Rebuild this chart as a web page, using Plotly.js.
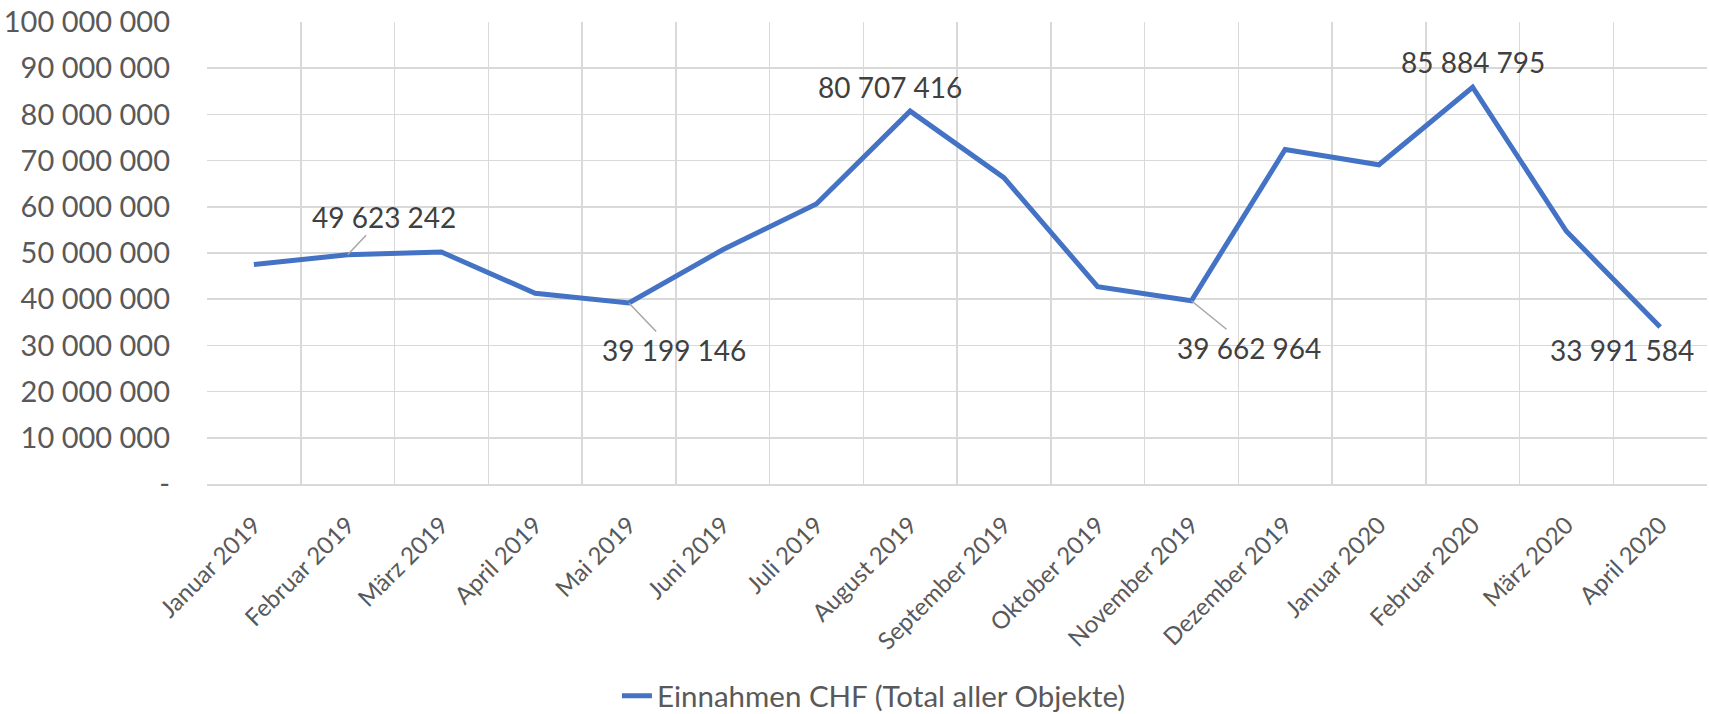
<!DOCTYPE html>
<html>
<head>
<meta charset="utf-8">
<script src="https://cdn.plot.ly/plotly-3.0.1.min.js"></script>
<style>html,body{margin:0;padding:0;background:#fff;}#chart{width:1709px;height:714px;}</style>
</head>
<body>
<div id="chart"></div>
<script>
const months = ["Januar 2019","Februar 2019","März 2019","April 2019","Mai 2019","Juni 2019","Juli 2019","August 2019","September 2019","Oktober 2019","November 2019","Dezember 2019","Januar 2020","Februar 2020","März 2020","April 2020"];
const einnahmen = [47500000, 49623242, 50200000, 41300000, 39199146, 50700000, 60600000, 80707416, 66300000, 42700000, 39662964, 72400000, 69100000, 85884795, 54700000, 33991584];
const seriesName = "Einnahmen CHF (Total aller Objekte)";
const yTickVals = [0,10000000,20000000,30000000,40000000,50000000,60000000,70000000,80000000,90000000,100000000];
const yTickText = ["-","10 000 000","20 000 000","30 000 000","40 000 000","50 000 000","60 000 000","70 000 000","80 000 000","90 000 000","100 000 000"];
const labelledIdx = [1, 4, 7, 10, 13, 15];
const labelOffsets = {1:[36,-38,true],4:[45,47,true],7:[-20,-24,false],10:[58,47,true],13:[0,-25,false],15:[-38,23,false]};

function fmt(v){ return String(v).replace(/\B(?=(\d{3})+(?!\d))/g, " "); }

const annotations = labelledIdx.map(i => {
  const o = labelOffsets[i];
  return {
    x: months[i], y: einnahmen[i], xref: 'x', yref: 'y',
    text: fmt(einnahmen[i]),
    showarrow: true, arrowhead: 0, arrowwidth: 1.5,
    arrowcolor: o[2] ? '#a6a6a6' : 'rgba(0,0,0,0)',
    ax: o[0], ay: o[1], standoff: 0, startstandoff: 0,
    font: {family: 'Lato, sans-serif', size: 28, color: '#404040'}
  };
});

const trace = {
  x: months, y: einnahmen, type: 'scatter', mode: 'lines', name: seriesName,
  line: {color: '#4472C4', width: 5, shape: 'linear'},
  hoverinfo: 'skip'
};

const layout = {
  width: 1709, height: 714,
  margin: {l: 207, r: 2, t: 22, b: 230},
  paper_bgcolor: '#fff', plot_bgcolor: '#fff',
  font: {family: 'Lato, sans-serif', size: 28, color: '#595959'},
  showlegend: true,
  legend: {orientation: 'h', xref: 'container', yref: 'container',
           x: 0.361, xanchor: 'left', y: 0.025, yanchor: 'middle',
           bgcolor: 'rgba(0,0,0,0)',
           font: {family: 'Lato, sans-serif', size: 29.5, color: '#595959'}},
  xaxis: {type: 'category', range: [-0.5, 15.5], tickson: 'boundaries', showgrid: true,
          gridcolor: '#d9d9d9', gridwidth: 1.5, ticks: '', tickangle: -45,
          showline: true, linecolor: '#d9d9d9', linewidth: 1.5, zeroline: false,
          automargin: false, ticklabelstandoff: 16,
          tickfont: {family: 'Lato, sans-serif', size: 24, color: '#595959'}},
  yaxis: {range: [0, 100000000], tickvals: yTickVals, ticktext: yTickText, showgrid: true,
          gridcolor: '#d9d9d9', gridwidth: 1.5, zeroline: false, showline: false, ticks: '',
          automargin: false, ticklabelstandoff: 36,
          tickfont: {family: 'Lato, sans-serif', size: 29, color: '#595959'}},
  annotations: annotations
};

Plotly.newPlot('chart', [trace], layout, {staticPlot: true, displayModeBar: false});
</script>
</body>
</html>
